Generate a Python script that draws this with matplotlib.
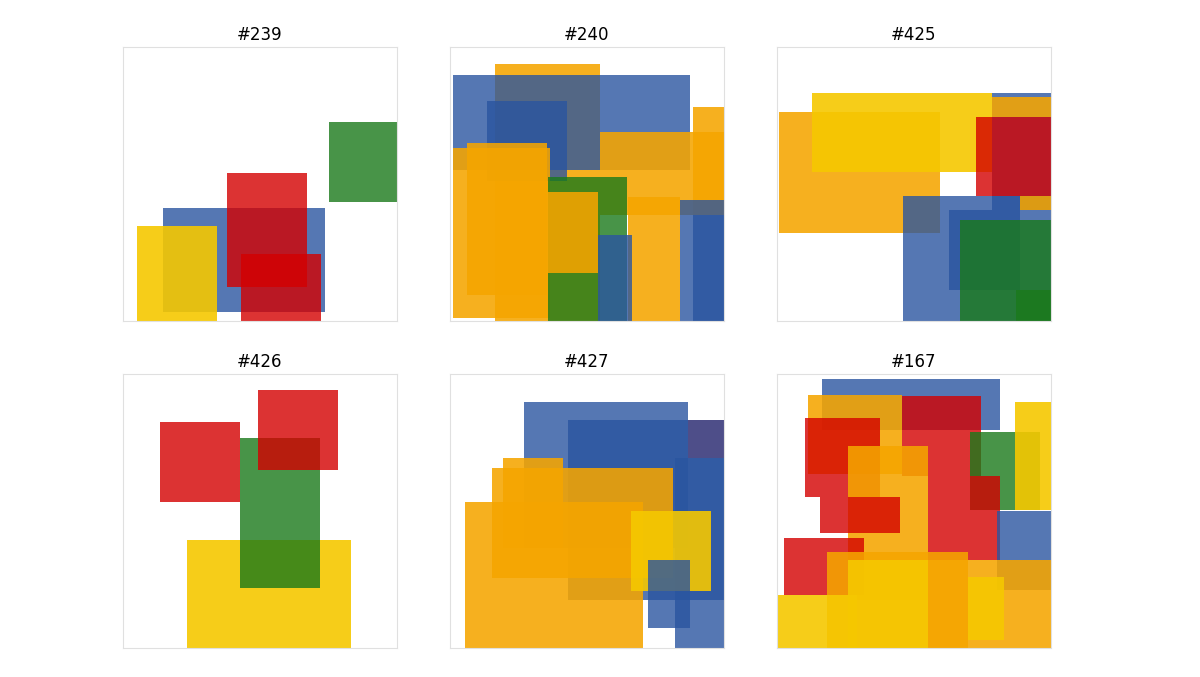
import matplotlib
matplotlib.use("Agg")
import matplotlib.pyplot as plt
from matplotlib.patches import Rectangle

titles = ["#239", "#240", "#425", "#426", "#427", "#167"]
PALETTE = {"b": "#2a55a0", "r": "#d40000", "g": "#1a7a1a", "y": "#f5c800", "o": "#f5a500"}

# each rect: (x, y, width, height, colour key), in panel units 0..274
p239 = [(40, 9, 162, 104, "b"), (104, 34, 80, 114, "r"), (206, 119, 68, 80, "g"),
        (14, 0, 80, 95, "y"), (118, 0, 80, 67, "r")]
p240 = [(45, 0, 105, 257, "o"), (3, 151, 237, 95, "b"), (37, 140, 80, 80, "b"),
        (150, 106, 124, 83, "o"), (243, 106, 31, 108, "o"), (3, 3, 97, 170, "o"),
        (17, 26, 80, 152, "o"), (98, 0, 79, 144, "g"), (98, 48, 50, 81, "o"),
        (178, 0, 52, 124, "o"), (148, 0, 34, 86, "b"), (230, 0, 44, 121, "b"),
        (243, 0, 31, 106, "b")]
p425 = [(2, 88, 161, 121, "o"), (35, 149, 180, 79, "y"), (126, 0, 148, 125, "b"),
        (215, 111, 59, 117, "b"), (215, 204, 59, 20, "o"), (199, 125, 75, 79, "r"),
        (243, 111, 31, 14, "o"), (172, 31, 71, 80, "b"), (183, 0, 91, 101, "g"),
        (239, 0, 35, 31, "g")]
p426 = [(37, 146, 80, 80, "r"), (64, 0, 164, 108, "y"), (117, 60, 80, 150, "g"),
        (135, 178, 80, 80, "r")]
p427 = [(74, 100, 164, 146, "b"), (238, 190, 36, 38, "r"), (118, 48, 156, 180, "b"),
        (225, 0, 49, 190, "b"), (53, 100, 60, 90, "o"), (15, 0, 178, 146, "o"),
        (42, 70, 181, 110, "o"), (181, 57, 80, 80, "y"), (198, 20, 42, 68, "b")]
p167 = [(45, 218, 178, 51, "b"), (31, 174, 94, 79, "o"), (28, 151, 75, 79, "r"),
        (125, 172, 79, 80, "r"), (193, 138, 70, 78, "g"), (238, 138, 36, 108, "y"),
        (71, 48, 80, 154, "o"), (43, 115, 80, 36, "r"), (151, 88, 72, 84, "r"),
        (220, 58, 54, 79, "b"), (7, 53, 80, 57, "r"), (50, 0, 141, 96, "o"),
        (71, 0, 80, 88, "y"), (0, 0, 80, 53, "y"), (151, 0, 123, 88, "o"),
        (191, 8, 36, 63, "y")]
panels = [p239, p240, p425, p426, p427, p167]
ALPHA = {"b": 0.8, "r": 0.8, "g": 0.8, "y": 0.9, "o": 0.88}

fig = plt.figure(figsize=(12, 6.77), dpi=100)
lefts = [0.1025, 0.375, 0.6475]
bottoms = [0.5258, 0.0428]
for i, (title, rects) in enumerate(zip(titles, panels)):
    ax = fig.add_axes([lefts[i % 3], bottoms[i // 3], 0.2283, 0.4047])
    for x, y, w, h, c in rects:
        ax.add_patch(Rectangle((x, y), w, h, facecolor=PALETTE[c], alpha=ALPHA[c], linewidth=0))
    ax.set_xlim(0, 274)
    ax.set_ylim(0, 274)
    ax.set_xticks([]); ax.set_yticks([])
    for s in ax.spines.values():
        s.set_color("#e0e0e0"); s.set_linewidth(0.8)
    ax.set_title(title, fontsize=12, pad=5)
fig.savefig("out.png", dpi=100)
